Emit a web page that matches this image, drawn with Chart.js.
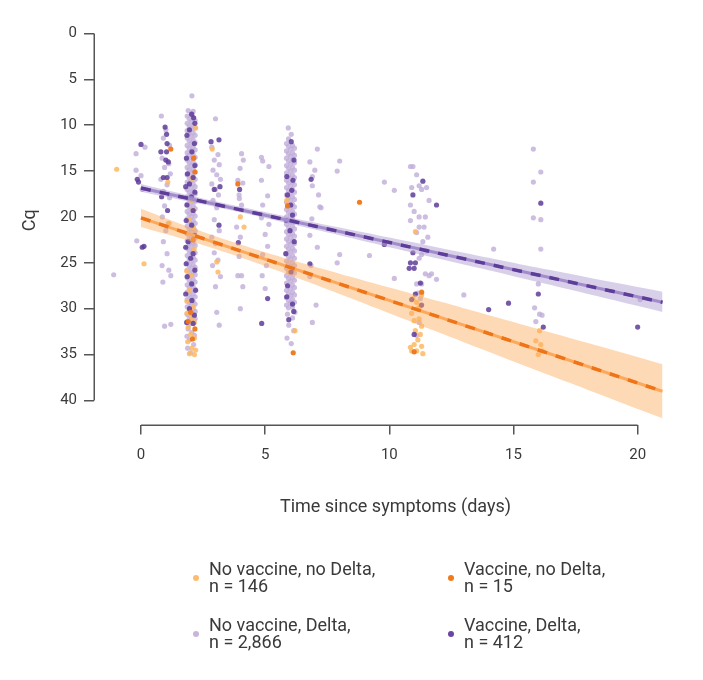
<!DOCTYPE html>
<html>
<head>
<meta charset="utf-8">
<script src="https://cdn.jsdelivr.net/npm/chart.js@4/dist/chart.umd.min.js"></script>
<style>
html,body{margin:0;padding:0;background:#fff;}
canvas{display:block;}
</style>
</head>
<body>
<canvas id="c" width="703" height="680"></canvas>
<script>
// ---------- DATA ----------
const xTicks = [0, 5, 10, 15, 20];
const yTicks = [0, 5, 10, 15, 20, 25, 30, 35, 40];
const xTitle = 'Time since symptoms (days)';
const yTitle = 'Cq';

const seriesLabels = [
  ['No vaccine, no Delta,', 'n = 146'],
  ['Vaccine, no Delta,', 'n = 15'],
  ['No vaccine, Delta,', 'n = 2,866'],
  ['Vaccine, Delta,', 'n = 412']
];

// No vaccine, Delta  [day, Cq]
const noVaccineDelta = [
  [-1.1,26.3],
  [-0.2,13.1],[0.16,12.4],[-0.2,14.9],[0.0,15.5],[-0.17,22.6],[0.05,17.0],
  [0.82,9.0],[1.0,10.5],[0.9,11.4],[1.15,12.2],[0.85,13.6],[1.12,14.2],[0.95,14.6],[1.18,15.3],[0.8,15.9],[1.05,16.5],
  [0.9,17.2],[1.15,17.9],[0.95,18.8],[0.86,20.0],[1.1,20.7],[1.0,21.5],[0.9,22.7],[1.05,24.0],[0.85,25.3],[1.12,25.8],
  [1.2,26.4],[0.88,27.1],[0.95,31.9],[1.2,31.7],
  // day-2 column
  [2.05,6.8],[1.9,8.4],[2.1,8.5],
  [1.86,9.0],[1.86,9.8],[1.86,10.6],[1.86,11.4],[1.86,12.2],[1.86,13.0],[1.86,13.8],[1.86,14.6],[1.86,15.4],[1.86,16.2],
  [1.86,17.0],[1.86,17.8],[1.86,18.6],[1.86,19.4],[1.86,20.2],[1.86,21.0],[1.86,21.8],[1.86,22.6],[1.86,23.4],[1.86,24.2],
  [1.86,25.0],[1.86,25.8],[1.86,26.6],[1.86,27.4],[1.86,28.2],[1.86,29.0],[1.86,29.8],[1.86,30.6],[1.86,31.4],
  [1.94,9.3],[1.94,10.1],[1.94,10.9],[1.94,11.7],[1.94,12.5],[1.94,13.3],[1.94,14.1],[1.94,14.9],[1.94,15.7],[1.94,16.5],
  [1.94,17.3],[1.94,18.1],[1.94,18.9],[1.94,19.7],[1.94,20.5],[1.94,21.3],[1.94,22.1],[1.94,22.9],[1.94,23.7],[1.94,24.5],
  [1.94,25.3],[1.94,26.1],[1.94,26.9],[1.94,27.7],[1.94,28.5],[1.94,29.3],[1.94,30.1],[1.94,30.9],[1.94,31.7],
  [2.02,8.8],[2.02,9.6],[2.02,10.4],[2.02,11.2],[2.02,12.0],[2.02,12.8],[2.02,13.6],[2.02,14.4],[2.02,15.2],[2.02,16.0],
  [2.02,16.8],[2.02,17.6],[2.02,18.4],[2.02,19.2],[2.02,20.0],[2.02,20.8],[2.02,21.6],[2.02,22.4],[2.02,23.2],[2.02,24.0],
  [2.02,24.8],[2.02,25.6],[2.02,26.4],[2.02,27.2],[2.02,28.0],[2.02,28.8],[2.02,29.6],[2.02,30.4],[2.02,31.2],
  [2.10,9.2],[2.10,10.0],[2.10,10.8],[2.10,11.6],[2.10,12.4],[2.10,13.2],[2.10,14.0],[2.10,14.8],[2.10,15.6],[2.10,16.4],
  [2.10,17.2],[2.10,18.0],[2.10,18.8],[2.10,19.6],[2.10,20.4],[2.10,21.2],[2.10,22.0],[2.10,22.8],[2.10,23.6],[2.10,24.4],
  [2.10,25.2],[2.10,26.0],[2.10,26.8],[2.10,27.6],[2.10,28.4],[2.10,29.2],[2.10,30.0],[2.10,30.8],
  [2.18,9.5],[2.18,10.3],[2.18,11.1],[2.18,11.9],[2.18,12.7],[2.18,13.5],[2.18,14.3],[2.18,15.1],[2.18,15.9],[2.18,16.7],
  [2.18,17.5],[2.18,18.3],[2.18,19.1],[2.18,19.9],[2.18,20.7],[2.18,21.5],[2.18,22.3],[2.18,23.1],[2.18,23.9],[2.18,24.7],
  [2.18,25.5],[2.18,26.3],[2.18,27.1],[2.18,27.9],[2.18,28.7],[2.18,29.5],[2.18,30.3],[2.18,31.1],
  [1.9,32.2],[2.05,32.6],[1.95,33.4],[2.12,33.9],[1.88,34.3],[2.0,34.8],[2.15,32.9],[1.85,33.0],
  // day-3 column
  [3.0,9.3],[2.85,12.4],[3.1,13.2],[2.95,13.8],[3.15,14.3],[2.9,14.9],[3.05,15.4],[3.2,15.9],[2.85,16.4],[3.0,17.0],
  [3.12,17.6],[2.9,18.2],[3.05,19.0],[2.95,20.3],[3.15,21.5],[2.85,22.2],[3.0,22.9],[2.95,23.9],[3.1,24.7],[2.88,25.3],
  [3.2,26.5],[3.0,27.6],[3.05,30.4],[3.15,31.8],
  // day-4 column
  [4.05,13.1],[4.12,13.8],[3.99,14.7],[3.9,16.0],[4.1,16.3],[3.95,17.6],[3.96,18.0],[4.05,18.7],[3.85,21.1],[4.0,22.2],
  [3.95,24.3],[3.9,26.4],[4.05,26.4],[4.1,27.6],[4.0,30.0],
  // day-5 column
  [4.85,13.5],[4.9,13.9],[5.15,14.5],[4.85,16.0],[5.1,17.7],[4.9,18.7],[4.85,20.1],[5.15,20.8],[5.0,21.9],[5.1,23.2],
  [4.9,24.1],[5.05,25.3],[4.88,26.4],[5.0,27.8],
  // day-6 column
  [5.93,10.3],[6.05,11.0],
  [5.86,12.0],[5.86,12.8],[5.86,13.6],[5.86,14.4],[5.86,15.2],[5.86,16.0],[5.86,16.8],[5.86,17.6],[5.86,18.4],[5.86,19.2],
  [5.86,20.0],[5.86,20.8],[5.86,21.6],[5.86,22.4],[5.86,23.2],[5.86,24.0],[5.86,24.8],[5.86,25.6],[5.86,26.4],[5.86,27.2],
  [5.86,28.0],[5.86,28.8],[5.86,29.6],
  [5.94,11.5],[5.94,12.3],[5.94,13.1],[5.94,13.9],[5.94,14.7],[5.94,15.5],[5.94,16.3],[5.94,17.1],[5.94,17.9],[5.94,18.7],
  [5.94,19.5],[5.94,20.3],[5.94,21.1],[5.94,21.9],[5.94,22.7],[5.94,23.5],[5.94,24.3],[5.94,25.1],[5.94,25.9],[5.94,26.7],
  [5.94,27.5],[5.94,28.3],[5.94,29.1],[5.94,29.9],
  [6.02,12.6],[6.02,13.4],[6.02,14.2],[6.02,15.0],[6.02,15.8],[6.02,16.6],[6.02,17.4],[6.02,18.2],[6.02,19.0],[6.02,19.8],
  [6.02,20.6],[6.02,21.4],[6.02,22.2],[6.02,23.0],[6.02,23.8],[6.02,24.6],[6.02,25.4],[6.02,26.2],[6.02,27.0],[6.02,27.8],
  [6.02,28.6],[6.02,29.4],
  [6.10,12.2],[6.10,13.0],[6.10,13.8],[6.10,14.6],[6.10,15.4],[6.10,16.2],[6.10,17.0],[6.10,17.8],[6.10,18.6],[6.10,19.4],
  [6.10,20.2],[6.10,21.0],[6.10,21.8],[6.10,22.6],[6.10,23.4],[6.10,24.2],[6.10,25.0],[6.10,25.8],[6.10,26.6],[6.10,27.4],
  [6.10,28.2],[6.10,29.0],[6.10,29.8],
  [6.18,12.5],[6.18,13.3],[6.18,14.1],[6.18,14.9],[6.18,15.7],[6.18,16.5],[6.18,17.3],[6.18,18.1],[6.18,18.9],[6.18,19.7],
  [6.18,20.5],[6.18,21.3],[6.18,22.1],[6.18,22.9],[6.18,23.7],[6.18,24.5],[6.18,25.3],[6.18,26.1],[6.18,26.9],[6.18,27.7],
  [6.18,28.5],[6.18,29.3],
  [5.9,30.6],[6.1,31.0],[5.95,31.8],[6.15,32.4],[5.88,33.2],[6.05,33.8],[6.2,30.4],
  // day-7 column
  [7.1,12.6],[6.8,14.0],[7.0,14.9],[6.9,15.6],[6.9,16.6],[7.15,17.6],[7.2,18.9],[6.88,20.2],[6.8,22.0],[7.1,23.3],
  [6.85,25.3],[6.8,26.5],[7.05,29.6],[6.9,31.5],
  [8.0,13.9],[7.9,15.0],[7.25,19.0],[9.8,16.2],[10.2,17.1],[8.0,24.1],[7.9,25.0],[9.2,24.2],[10.2,26.7],
  // day-11 column
  [10.85,14.5],[10.95,14.5],[11.1,15.4],[10.9,16.8],[11.2,16.6],[11.3,17.0],[11.5,16.8],[11.6,18.2],[10.85,18.7],[11.0,19.4],
  [11.2,20.0],[11.45,20.0],[10.85,20.4],[11.2,21.1],[11.4,21.1],[11.1,21.7],[11.55,22.2],[11.35,22.7],[11.5,23.7],[11.3,24.1],
  [11.2,24.5],[11.6,26.4],[11.45,26.2],[11.7,26.2],[11.1,27.3],[11.3,27.3],[11.15,28.3],[11.25,28.9],[11.2,31.5],[11.1,32.9],
  [11.9,26.8],
  [13.0,28.5],[14.2,23.5],
  // day-16 column
  [15.8,12.6],[16.1,15.1],[15.8,16.2],[15.8,20.1],[16.1,20.3],[16.1,23.5],[16.0,27.3],[15.85,29.9],[16.05,30.6],[16.15,30.7],
  [15.9,31.4],
  [20.1,29.0]
];

// Vaccine, Delta
const vaccineDelta = [
  [0.0,12.1],[-0.15,15.9],[-0.1,16.2],[0.12,23.2],[0.05,23.3],
  [0.97,10.2],[1.03,11.0],[1.05,12.0],[0.8,12.9],[1.03,12.9],[1.0,13.8],[1.1,14.0],[0.9,15.7],[1.05,15.7],[0.83,17.8],
  [1.07,19.3],
  [2.04,8.8],[2.12,9.2],[2.17,9.8],[1.95,10.5],[1.85,11.1],[2.15,12.0],[2.05,12.9],[1.83,13.6],[2.17,14.4],[1.87,15.3],
  [2.1,15.7],[1.95,16.4],[1.8,16.7],[2.17,17.3],[2.03,17.8],[1.85,18.7],[2.1,19.3],[1.82,20.4],[2.04,20.9],[2.17,22.0],
  [1.9,22.7],[1.8,23.3],[2.1,24.0],[2.0,24.5],[1.82,25.1],[2.17,25.8],[1.86,26.5],[2.04,27.3],[2.2,28.0],[1.8,28.4],
  [2.05,29.1],[1.95,30.0],[2.15,30.7],[1.84,31.5],[2.1,31.6],
  [2.82,11.8],[3.14,11.6],[3.18,16.7],[2.95,17.0],[3.14,20.9],
  [3.97,17.0],[3.92,22.8],
  [5.1,28.9],[4.86,31.6],
  [6.05,11.8],[6.16,13.8],[5.87,15.6],[6.12,16.0],[6.07,17.1],[5.9,17.6],[6.03,18.7],[6.1,19.8],[5.85,20.4],[6.0,21.5],
  [6.17,22.7],[5.83,24.0],[6.04,26.0],[5.9,27.5],[5.87,28.7],[6.1,29.5],[6.15,30.3],[5.95,31.2],
  [6.85,15.9],[6.8,25.1],
  [9.8,23.0],
  [11.35,16.1],[10.95,17.6],[11.9,18.7],[10.95,23.9],[10.85,25.0],[11.05,25.0],[10.8,25.6],[11.0,25.6],[11.25,27.2],[11.05,28.4],
  [10.9,29.0],[11.3,29.6],[11.0,32.8],
  [14.0,30.1],[14.8,29.4],
  [16.1,18.5],[16.0,28.4],[16.2,32.0],
  [20.0,32.0]
];

// No vaccine, no Delta
const noVaccineNoDelta = [
  [-0.98,14.8],[0.12,25.1],
  [1.08,16.2],[1.13,20.7],
  [2.2,10.3],[2.07,15.8],[2.05,18.2],[2.1,19.2],[1.95,20.3],[2.12,21.2],[2.14,23.5],[1.84,25.9],[2.0,26.4],
  [1.95,28.0],[1.85,29.2],[2.1,29.8],[1.85,30.5],[2.05,31.0],[2.15,31.5],[1.9,32.0],[2.0,32.8],[2.15,33.2],[1.88,33.6],
  [2.05,34.3],[2.2,34.5],[1.95,34.9],[2.15,35.0],
  [2.87,12.6],[3.05,24.9],[3.1,26.0],
  [4.0,20.0],[4.15,21.1],
  [5.87,18.2],[5.95,26.0],[6.2,32.4],
  [11.05,21.6],[10.95,28.9],[11.3,28.5],[11.1,29.3],[11.25,29.7],[11.15,30.0],[10.9,30.5],[11.2,31.1],[11.0,31.3],[11.3,31.9],
  [11.05,32.4],[11.25,32.8],[11.15,33.4],[11.0,33.9],[11.3,34.1],[10.85,34.2],[10.9,34.6],[11.1,34.6],[11.35,34.9],
  [16.05,32.4],[15.9,33.5],[16.1,33.9],[16.15,34.6],[16.0,35.0]
];

// Vaccine, no Delta
const vaccineNoDelta = [
  [1.2,12.6],[2.12,13.6],[2.17,15.1],[3.9,16.4],[2.1,22.5],[2.0,30.4],[1.9,31.4],[2.17,32.2],[2.07,33.3],
  [5.9,18.8],[6.13,34.8],[8.8,18.4],[11.3,28.2],[11.0,34.7]
];

// Regression fits (Cq at start and end of the fitted range)
const fitX = [0, 21];
const fitDelta = [16.85, 29.3];
const fitNoDelta = [20.1, 39.0];

// 95% confidence bands
const bandX = [0, 2, 4, 6, 8, 10, 12, 14, 16, 18, 21];
const deltaBandLow  = [16.4, 17.7, 18.9, 20.05, 21.15, 22.25, 23.35, 24.45, 25.55, 26.6, 28.15];
const deltaBandHigh = [17.25, 18.35, 19.5, 20.75, 22.0, 23.3, 24.55, 25.8, 27.1, 28.4, 30.35];
const noDeltaBandLow  = [19.1, 21.15, 23.0, 24.65, 26.2, 27.7, 29.2, 30.7, 32.2, 33.75, 36.05];
const noDeltaBandHigh = [21.1, 22.65, 24.4, 26.35, 28.4, 30.5, 32.6, 34.7, 36.8, 38.85, 41.95];

// ---------- STYLES ----------
const C = {
  lightOrange: 'rgba(253,184,99,0.85)',
  orange: 'rgba(238,118,25,0.95)',
  lightPurple: 'rgba(192,174,218,0.8)',
  darkPurple: 'rgba(94,60,153,0.85)',
  legendColors: ['#fdbb70', '#f07b1c', '#c8b5dd', '#6a45a6']
};
const FONT = 'Roboto, "Liberation Sans", sans-serif';
const TEXT = '#3a3a3a';

const pts = arr => arr.map(p => ({x: p[0], y: p[1]}));
const pair = (xs, ys) => xs.map((x, i) => ({x, y: ys[i]}));

const pointDs = (label, data, color, order) => ({
  type: 'scatter', label, data: pts(data), order,
  pointRadius: 2.6, pointHoverRadius: 2.6, pointBorderWidth: 0,
  pointBackgroundColor: color, backgroundColor: color, borderColor: color
});
const bandDs = (label, ys, fill, color) => ({
  type: 'line', label, data: pair(bandX, ys), order: 5,
  showLine: true, pointRadius: 0, borderWidth: 0, borderColor: 'rgba(0,0,0,0)',
  fill: fill, backgroundColor: color, tension: 0.3
});
const lineDs = (label, ys, color, width, dash, order) => ({
  type: 'line', label, data: pair(fitX, ys), order,
  showLine: true, pointRadius: 0, borderWidth: width, borderColor: color,
  borderDash: dash, fill: false, borderCapStyle: 'butt'
});

const axisLines = {
  id: 'axisLines',
  afterDraw(chart) {
    const {ctx, chartArea, scales: {x, y}} = chart;
    ctx.save();
    ctx.strokeStyle = '#555';
    ctx.lineWidth = 1.5;
    ctx.beginPath();
    const lx = Math.round(chartArea.left) + 0.25;
    ctx.moveTo(lx, y.getPixelForValue(yTicks[0]));
    ctx.lineTo(lx, y.getPixelForValue(yTicks[yTicks.length - 1]));
    const by = Math.round(chartArea.bottom) + 0.25;
    ctx.moveTo(x.getPixelForValue(xTicks[0]), by);
    ctx.lineTo(x.getPixelForValue(xTicks[xTicks.length - 1]), by);
    ctx.stroke();
    ctx.restore();
  }
};

const customLegend = {
  id: 'customLegend',
  afterDraw(chart) {
    const ctx = chart.ctx;
    const cols = [196, 451];
    const rows = [578, 634];
    ctx.save();
    ctx.font = '18px ' + FONT;
    [0, 1, 2, 3].forEach((idx, k) => {
      const cx = cols[k % 2], cy = rows[Math.floor(k / 2)];
      ctx.beginPath();
      ctx.fillStyle = C.legendColors[idx];
      ctx.arc(cx, cy, 3, 0, Math.PI * 2);
      ctx.fill();
      ctx.fillStyle = TEXT;
      ctx.textBaseline = 'alphabetic';
      ctx.textAlign = 'left';
      ctx.fillText(seriesLabels[idx][0], cx + 13, cy - 3);
      ctx.fillText(seriesLabels[idx][1], cx + 13, cy + 14);
    });
    ctx.restore();
  }
};

Chart.defaults.font.family = FONT;
Chart.defaults.color = TEXT;

new Chart(document.getElementById('c'), {
  type: 'scatter',
  data: {
    datasets: [
      pointDs(seriesLabels[2].join(' '), noVaccineDelta, C.lightPurple, 20),
      pointDs(seriesLabels[0].join(' '), noVaccineNoDelta, C.lightOrange, 19),
      pointDs(seriesLabels[3].join(' '), vaccineDelta, C.darkPurple, 18),
      pointDs(seriesLabels[1].join(' '), vaccineNoDelta, C.orange, 17),
      bandDs('Delta CI upper', deltaBandHigh, '+1', 'rgba(178,160,212,0.5)'),
      bandDs('Delta CI lower', deltaBandLow, false, 'rgba(0,0,0,0)'),
      bandDs('No Delta CI upper', noDeltaBandHigh, '+1', 'rgba(252,170,90,0.45)'),
      bandDs('No Delta CI lower', noDeltaBandLow, false, 'rgba(0,0,0,0)'),
      lineDs('Delta fit', fitDelta, '#a28ccb', 3, [], 3),
      lineDs('Delta fit dashed', fitDelta, '#5e3c99', 3.5, [10, 9], 2),
      lineDs('No Delta fit', fitNoDelta, '#fca95c', 3, [], 3),
      lineDs('No Delta fit dashed', fitNoDelta, '#ee7417', 3.5, [10, 9], 2)
    ]
  },
  options: {
    responsive: false,
    animation: false,
    events: [],
    layout: { padding: { left: 0, right: 6, top: 16, bottom: 162 } },
    plugins: { legend: { display: false }, tooltip: { enabled: false } },
    scales: {
      x: {
        type: 'linear', position: 'bottom', min: -1.893, max: 22.39,
        afterBuildTicks: s => { s.ticks = xTicks.map(v => ({value: v})); },
        afterFit: s => { s.height = 93.5; },
        border: { display: false },
        grid: { display: true, drawOnChartArea: false, drawTicks: true, tickLength: 10, color: '#555', lineWidth: 1.5 },
        ticks: { padding: 12, font: { size: 15 }, color: TEXT, maxRotation: 0 },
        title: { display: true, text: xTitle, font: { size: 18 }, color: TEXT, padding: { top: 0, bottom: 0 } }
      },
      y: {
        type: 'linear', position: 'left', reverse: true, min: -1.9, max: 42.62,
        afterBuildTicks: s => { s.ticks = yTicks.map(v => ({value: v})); },
        afterFit: s => { s.width = 94; },
        border: { display: false },
        grid: { display: true, drawOnChartArea: false, drawTicks: true, tickLength: 10, color: '#555', lineWidth: 1.5 },
        ticks: { padding: 7, font: { size: 15 }, color: TEXT },
        title: { display: true, text: yTitle, font: { size: 18 }, color: TEXT, padding: { top: 20, bottom: 0 } }
      }
    }
  },
  plugins: [axisLines, customLegend]
});
</script>
</body>
</html>
